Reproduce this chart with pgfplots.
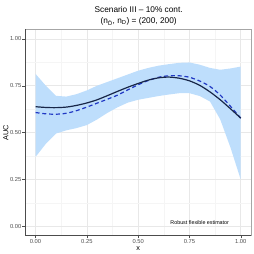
\documentclass[border=0pt]{standalone}
\usepackage{fontspec}
\setmainfont{Liberation Sans}
\usepackage{pgfplots}
\pgfplotsset{compat=1.18}
\usepgfplotslibrary{fillbetween}
\definecolor{band}{RGB}{190,222,252}
\definecolor{solidc}{RGB}{24,38,72}
\definecolor{dashc}{RGB}{32,56,196}
\definecolor{tickc}{RGB}{77,77,77}
\begin{document}
\begin{tikzpicture}
\path (0pt,0pt) rectangle (254pt,254pt);
\begin{axis}[
  at={(25pt,18pt)}, anchor=south west,
  scale only axis, width=226pt, height=206.5pt,
  xmin=-0.05, xmax=1.05, ymin=-0.05, ymax=1.05,
  xtick={0,0.25,0.5,0.75,1}, ytick={0,0.25,0.5,0.75,1},
  minor xtick={0.125,0.375,0.625,0.875}, minor ytick={0.125,0.375,0.625,0.875},
  xticklabels={0.00,0.25,0.50,0.75,1.00},
  yticklabels={0.00,0.25,0.50,0.75,1.00},
  grid=both,
  major grid style={draw=black!9, line width=0.5pt},
  minor grid style={draw=black!4, line width=0.3pt},
  axis line style={draw=none},
  tick align=outside, tick pos=left,
  major tick length=2.8pt, minor tick length=0pt,
  tick style={tickc, line width=0.4pt},
  ticklabel style={font=\fontsize{5.8}{6}\selectfont, text=tickc, inner sep=1pt},
  /pgf/number format/assume math mode=true,
  xlabel={x}, ylabel={AUC},
  label style={font=\fontsize{7.3}{8}\selectfont},
  xlabel style={yshift=-1.5pt, inner sep=0.5pt},
  ylabel style={yshift=-3pt},
  clip=false,
]
\addplot[name path=upper, draw=none, forget plot] coordinates {
(0,0.813) (0.05,0.75) (0.1,0.696) (0.15,0.692) (0.2,0.705) (0.25,0.725) (0.3,0.75) (0.35,0.77) (0.4,0.79) (0.45,0.81) (0.5,0.83) (0.55,0.845) (0.6,0.857) (0.65,0.865) (0.7,0.872) (0.75,0.874) (0.8,0.862) (0.85,0.845) (0.9,0.835) (0.95,0.842) (1,0.852)};
\addplot[name path=lower, draw=none, forget plot] coordinates {
(0,0.37) (0.05,0.44) (0.1,0.495) (0.15,0.512) (0.2,0.524) (0.25,0.54) (0.3,0.57) (0.35,0.605) (0.4,0.635) (0.45,0.66) (0.5,0.675) (0.55,0.685) (0.6,0.695) (0.65,0.703) (0.7,0.71) (0.75,0.71) (0.8,0.695) (0.85,0.666) (0.9,0.57) (0.95,0.42) (1,0.249)};
\addplot[band, forget plot] fill between[of=upper and lower];
\addplot[dashc, line width=1.2pt, dash pattern=on 4pt off 2.8pt, smooth] coordinates {
(0,0.607) (0.05,0.600) (0.1,0.598) (0.15,0.603) (0.2,0.617) (0.25,0.636) (0.3,0.657) (0.35,0.678) (0.4,0.700) (0.45,0.728) (0.5,0.755) (0.55,0.778) (0.6,0.795) (0.65,0.803) (0.7,0.803) (0.75,0.795) (0.8,0.775) (0.85,0.746) (0.9,0.70) (0.95,0.64) (1,0.577)};
\addplot[solidc, line width=1.2pt, smooth] coordinates {
(0,0.638) (0.05,0.634) (0.1,0.633) (0.15,0.636) (0.2,0.645) (0.25,0.658) (0.3,0.675) (0.35,0.697) (0.4,0.720) (0.45,0.742) (0.5,0.762) (0.55,0.780) (0.6,0.792) (0.65,0.796) (0.7,0.790) (0.75,0.776) (0.8,0.752) (0.85,0.717) (0.9,0.675) (0.95,0.627) (1,0.577)};
\draw[black!35, line width=0.5pt] (rel axis cs:0,1) -- (rel axis cs:1,1) -- (rel axis cs:1,0);
\draw[black!70, line width=0.6pt] (rel axis cs:0,1) -- (rel axis cs:0,0) -- (rel axis cs:1,0);
\node[font=\fontsize{5.35}{6}\selectfont] at (axis cs:0.80,0.02) {Robust flexible estimator};
\end{axis}
\node[font=\fontsize{8.3}{9}\selectfont, inner sep=0pt] at (138.5pt,244pt) {Scenario III -- 10\% cont.};
\node[font=\fontsize{8.3}{9}\selectfont, inner sep=0pt] at (138.5pt,232.5pt) {(n\textsubscript{\=D}, n\textsubscript{D}) = (200, 200)};
\end{tikzpicture}
\end{document}
